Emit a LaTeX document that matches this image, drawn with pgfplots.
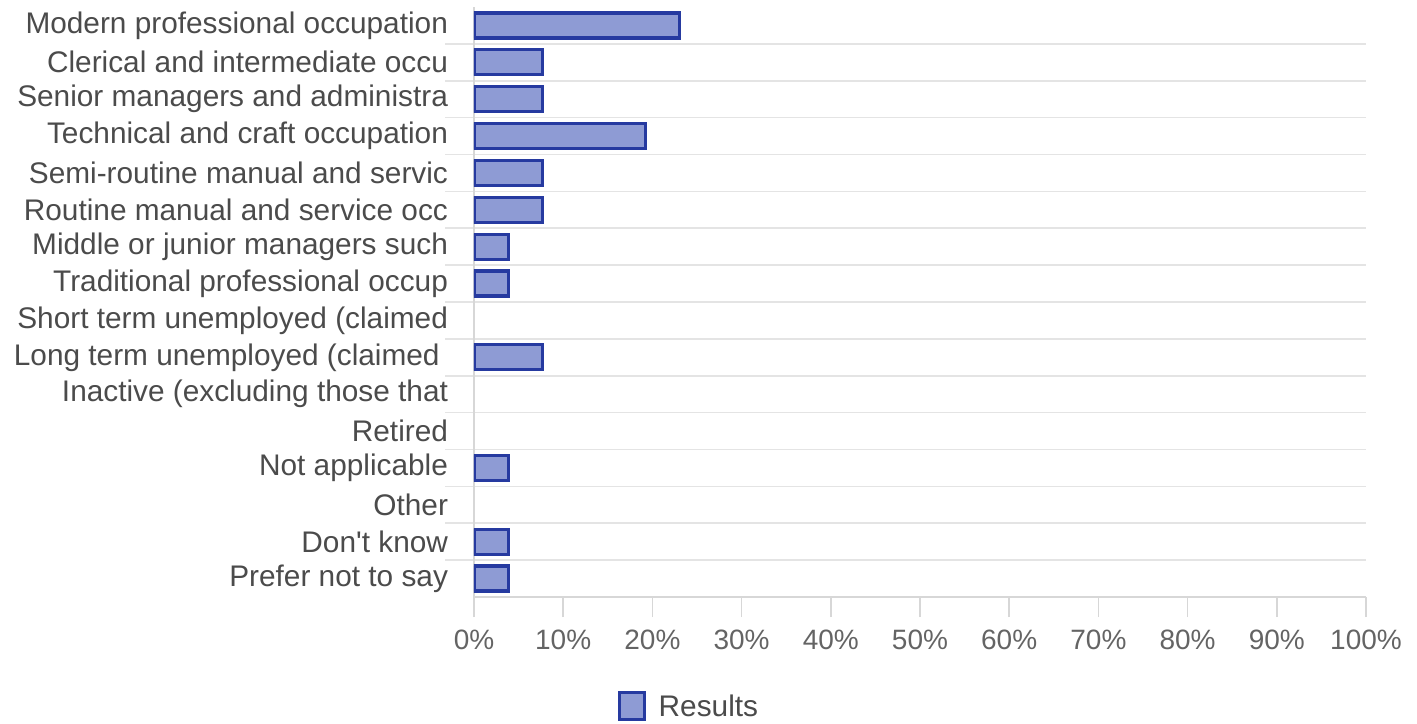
\documentclass[border=0pt]{standalone}
\usepackage{pgfplots}
\pgfplotsset{compat=1.18}
\usepackage{fontspec}
\setmainfont{Liberation Sans}

\definecolor{barfill}{RGB}{142,155,212}
\definecolor{barline}{RGB}{38,58,160}
\definecolor{sepline}{RGB}{228,228,228}
\definecolor{axline}{RGB}{215,215,215}
\definecolor{labtext}{RGB}{75,75,75}
\definecolor{ticktext}{RGB}{100,100,100}

% share of 26 respondents, in %; categories with 0 are left out (no bar drawn)
\pgfplotstableread{
idx pct
0  23.08
1  7.69
2  7.69
3  19.23
4  7.69
5  7.69
6  3.85
7  3.85
9  7.69
12 3.85
14 3.85
15 3.85
}\results

\begin{document}
\begin{tikzpicture}
\path[use as bounding box] (-237bp,-63.5bp) rectangle (471.5bp,298.5bp);
\begin{axis}[
    at={(0,0)}, anchor=south west,
    width=446bp, height=295bp, scale only axis,
    xmin=0, xmax=100,
    ymin=-0.5, ymax=15.5, y dir=reverse,
    axis lines*=left,
    axis line style={axline, line width=0.8bp},
    xtick={0,10,...,100},
    xticklabels={0\%,10\%,20\%,30\%,40\%,50\%,60\%,70\%,80\%,90\%,100\%},
    x tick style={axline, line width=0.8bp},
    tick align=outside,
    major tick length=10bp,
    x tick label style={font=\fontsize{14bp}{16bp}\selectfont, text=ticktext, yshift=-3bp},
    ytick={0,...,15},
    yticklabels={
        Modern professional occupation,
        Clerical and intermediate occu,
        Senior managers and administra,
        Technical and craft occupation,
        Semi-routine manual and servic,
        Routine manual and service occ,
        Middle or junior managers such,
        Traditional professional occup,
        Short term unemployed (claimed,
        Long term unemployed (claimed\kern0.28em,
        Inactive (excluding those that,
        Retired,
        Not applicable,
        Other,
        Don\textquotesingle t know,
        Prefer not to say},
    y tick style={draw=none},
    y tick label style={font=\fontsize{14.9bp}{17bp}\selectfont, text=labtext, anchor=east, xshift=0.5bp},
    minor ytick={0.5,1.5,...,14.5},
    minor y tick style={draw=sepline, line width=0.8bp},
    minor tick length=14.5bp,
    yminorgrids,
    minor grid style={sepline, line width=0.8bp},
    legend style={draw=none, at={(0.247,-0.186)}, anchor=center,
        font=\fontsize{14.9bp}{17bp}\selectfont, text=labtext,
        nodes={inner xsep=6.5bp}},
    legend image code/.code={\draw[#1, line width=1.6bp] (0bp,-6.5bp) rectangle (12.5bp,7bp);},
]
\addplot[xbar, bar width=12.5bp, fill=barfill, draw=barline, line width=1.6bp]
    table[x=pct, y=idx] {\results};
\addlegendentry{Results}
\end{axis}
\end{tikzpicture}
\end{document}
